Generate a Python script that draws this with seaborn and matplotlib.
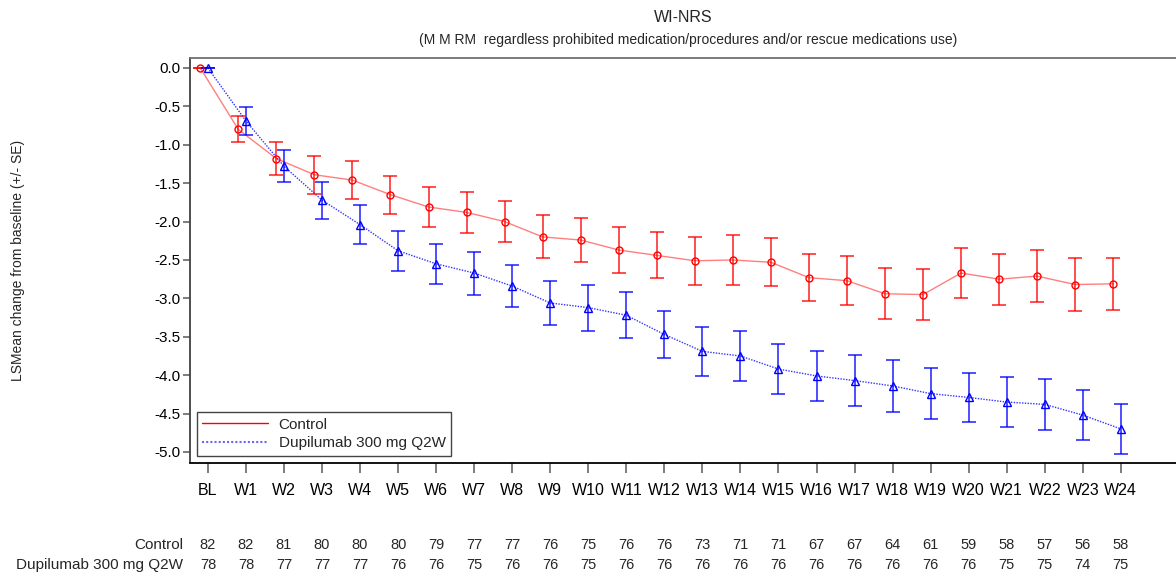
import matplotlib
matplotlib.use("Agg")
import matplotlib.pyplot as plt
import matplotlib.transforms as mtransforms
from matplotlib.lines import Line2D
import numpy as np
import pandas as pd
import seaborn as sns

# ---------------- data ----------------
visits = ["BL"] + [f"W{i}" for i in range(1, 25)]

control_mean = [0.00, -0.80, -1.18, -1.39, -1.46, -1.65, -1.81, -1.88, -2.00, -2.20,
                -2.24, -2.37, -2.44, -2.51, -2.50, -2.53, -2.73, -2.77, -2.94, -2.95,
                -2.67, -2.75, -2.71, -2.82, -2.81]
control_se = [0.00, 0.17, 0.21, 0.245, 0.245, 0.25, 0.26, 0.27, 0.27, 0.28,
              0.29, 0.30, 0.30, 0.31, 0.32, 0.31, 0.31, 0.32, 0.33, 0.33,
              0.32, 0.33, 0.34, 0.34, 0.34]

dupi_mean = [0.00, -0.69, -1.28, -1.72, -2.04, -2.38, -2.55, -2.67, -2.84, -3.06,
             -3.12, -3.22, -3.47, -3.69, -3.75, -3.92, -4.01, -4.07, -4.14, -4.24,
             -4.29, -4.35, -4.38, -4.52, -4.70]
dupi_se = [0.00, 0.18, 0.21, 0.24, 0.25, 0.26, 0.26, 0.28, 0.27, 0.29,
           0.30, 0.30, 0.31, 0.32, 0.32, 0.32, 0.32, 0.33, 0.34, 0.33,
           0.32, 0.33, 0.33, 0.33, 0.33]

control_n = [82, 82, 81, 80, 80, 80, 79, 77, 77, 76, 75, 76, 76, 73, 71, 71, 67, 67,
             64, 61, 59, 58, 57, 56, 58]
dupi_n = [78, 78, 77, 77, 77, 76, 76, 75, 76, 76, 75, 76, 76, 76, 76, 76, 76, 76,
          76, 76, 76, 75, 75, 74, 75]

series_names = ["Control", "Dupilumab 300 mg Q2W"]
title = "WI-NRS"
subtitle = "(M M RM  regardless prohibited medication/procedures and/or rescue medications use)"
ylabel = "LSMean change from baseline (+/- SE)"

# ---------------- style ----------------
sns.set_style("white")
plt.rcParams["font.family"] = ["Liberation Sans", "DejaVu Sans"]

W, H = 1176, 577
fig = plt.figure(figsize=(W / 100, H / 100), dpi=100)
ax_left, ax_right, ax_top, ax_bot = 190, 1176, 58, 462.5
ax = fig.add_axes([ax_left / W, 1 - ax_bot / H, (ax_right - ax_left) / W, (ax_bot - ax_top) / H])

x = np.arange(len(visits))
x_ctrl = x - 0.2
x_dupi = x.astype(float)

df = pd.DataFrame({
    "x": np.concatenate([x_ctrl, x_dupi]),
    "y": control_mean + dupi_mean,
    "group": [series_names[0]] * len(x) + [series_names[1]] * len(x),
})

red = "#FF0000"
blue = "#0000FF"

sns.lineplot(data=df[df.group == series_names[0]], x="x", y="y", ax=ax,
             color=red, alpha=0.5, linewidth=1.0, legend=False)
sns.lineplot(data=df[df.group == series_names[1]], x="x", y="y", ax=ax,
             color=blue, alpha=0.8, linewidth=1.0, linestyle=(0, (1, 1)), legend=False)

ax.errorbar(x_ctrl, control_mean, yerr=control_se, fmt="none", ecolor=red, alpha=0.75,
            elinewidth=1.3, capsize=5, capthick=1.3)
ax.errorbar(x_dupi, dupi_mean, yerr=dupi_se, fmt="none", ecolor=blue, alpha=0.75,
            elinewidth=1.3, capsize=5, capthick=1.3)

ax.plot(x_ctrl, control_mean, linestyle="none", marker="o", markersize=5,
        markerfacecolor="none", markeredgecolor=red, markeredgewidth=1.0)
ax.plot(x_dupi, dupi_mean, linestyle="none", marker="^", markersize=5.5,
        markerfacecolor="none", markeredgecolor=blue, markeredgewidth=1.0)

# axes limits and ticks
ax.set_xlim(-0.47, 25.45)
ax.set_ylim(-5.137, 0.13)
ax.set_xticks(x)
ax.set_xticklabels(visits, fontsize=11.5)
ax.set_yticks(np.arange(0, -5.01, -0.5))
ax.set_yticklabels([f"{v:.1f}" for v in np.arange(0, -5.01, -0.5)], fontsize=11)
ax.set_xlabel("")
ax.set_ylabel("")
ax.tick_params(axis="x", direction="out", length=7, width=1.2, color="#666666",
               pad=8, labelcolor="black", bottom=True)
ax.tick_params(axis="y", direction="out", length=5, width=1.2, color="#666666",
               pad=2, labelcolor="black", left=True)

for side, col, lw in [("top", "#707070", 1.3), ("left", "#404040", 1.3), ("bottom", "#000000", 1.3)]:
    ax.spines[side].set_visible(True)
    ax.spines[side].set_color(col)
    ax.spines[side].set_linewidth(lw)
ax.spines["right"].set_visible(False)

# legend
handles = [Line2D([0], [0], color=red, linewidth=1.0),
           Line2D([0], [0], color=blue, alpha=0.6, linewidth=1.5, linestyle=(0, (1, 1)))]
leg = ax.legend(handles, series_names, loc="lower left", bbox_to_anchor=(0.007, 0.017),
                fontsize=11, frameon=True, fancybox=False, framealpha=1,
                edgecolor="#444444", handlelength=4.3, borderpad=0.35, labelspacing=0.3,
                handletextpad=0.7, borderaxespad=0)
leg.get_frame().set_linewidth(1.0)

# titles
fig.text(683 / W, 1 - 17 / H, title, ha="center", va="center", fontsize=11.5)
fig.text(688 / W, 1 - 40 / H, subtitle, ha="center", va="center", fontsize=10)
fig.text(18 / W, 1 - 260 / H, ylabel, ha="center", va="center", rotation=90, fontsize=10)

# at-risk table
trans = mtransforms.blended_transform_factory(ax.transData, fig.transFigure)
row_y = [1 - 545 / H, 1 - 565 / H]
for name, counts, yy in zip(series_names, [control_n, dupi_n], row_y):
    fig.text(183 / W, yy, name, ha="right", va="center", fontsize=11)
    for xi, c in zip(x, counts):
        ax.text(xi, yy, str(c), transform=trans, ha="center", va="center",
                fontsize=10.5, clip_on=False)

fig.savefig("out.png", dpi=100)
